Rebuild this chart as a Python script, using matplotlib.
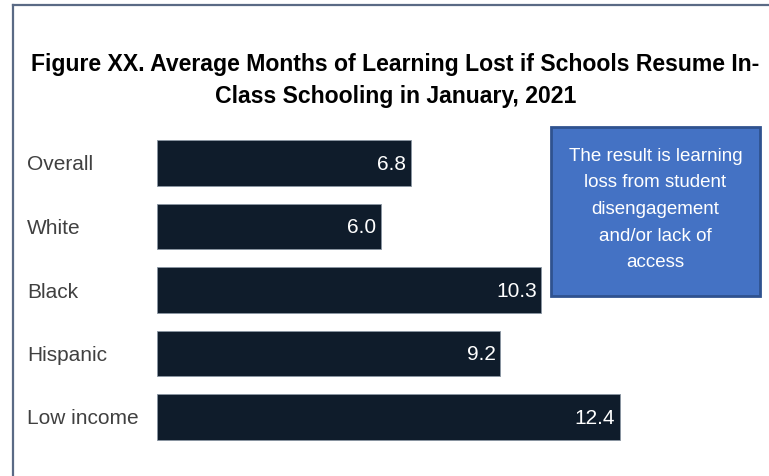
import matplotlib.pyplot as plt
from matplotlib.patches import Rectangle
from matplotlib.lines import Line2D

# Data
groups = ['Overall', 'White', 'Black', 'Hispanic', 'Low income']
months_lost = [6.8, 6.0, 10.3, 9.2, 12.4]

FONT = ['Liberation Sans', 'DejaVu Sans']
W, H = 769, 476
fig = plt.figure(figsize=(W / 100, H / 100), dpi=100)

# axes placed in pixel terms (left edge of bars at x=157)
ax_left, ax_right = 157, 760
ax_top, ax_bottom = 131.25, 448.75
ax = fig.add_axes([ax_left / W, 1 - ax_bottom / H,
                   (ax_right - ax_left) / W, (ax_bottom - ax_top) / H])

y = range(len(groups))
bars = ax.barh(y, months_lost, height=0.71, color='#0f1c2b',
               edgecolor='#8a96a3', linewidth=0.6)
ax.set_xlim(0, (ax_right - ax_left) / 37.3)
ax.set_ylim(len(groups) - 0.5, -0.5)

for b, v in zip(bars, months_lost):
    ax.text(b.get_width() - 0.12, b.get_y() + b.get_height() / 2 + 0.02, f'{v:.1f}',
            ha='right', va='center', color='white', fontsize=15,
            family=FONT)

ax.set_yticks(list(y))
ax.set_yticklabels(groups, ha='left', fontsize=15, color='#404040',
                   family=FONT)
ax.tick_params(axis='y', length=0, pad=(157 - 27) * 0.72)
ax.set_xticks([])
for s in ax.spines.values():
    s.set_visible(False)

# Title
fig.text(0.514, 1 - 80 / H,
         'Figure XX. Average Months of Learning Lost if Schools Resume In-\nClass Schooling in January, 2021',
         ha='center', va='center', fontsize=16.6, fontweight='bold',
         family=FONT, linespacing=1.5)

# Annotation box
bx0, bx1, by0, by1 = 551, 760, 127, 296
fig.add_artist(Rectangle((bx0 / W, 1 - by1 / H), (bx1 - bx0) / W, (by1 - by0) / H,
                         transform=fig.transFigure, facecolor='#4472c4',
                         edgecolor='#2f528f', linewidth=2))
fig.text((bx0 + bx1) / 2 / W, 1 - (by0 + by1 - 4) / 2 / H,
         'The result is learning\nloss from student\ndisengagement\nand/or lack of\naccess',
         ha='center', va='center', color='white', fontsize=13.5,
         family=FONT, linespacing=1.74)

# Frame lines
fig.add_artist(Line2D([13 / W, 1], [1 - 5 / H, 1 - 5 / H], transform=fig.transFigure,
                      color='#5a6a85', linewidth=1.6))
fig.add_artist(Line2D([13 / W, 13 / W], [0, 1 - 5 / H], transform=fig.transFigure,
                      color='#5a6a85', linewidth=1.6))

fig.savefig('out.png', dpi=100)
